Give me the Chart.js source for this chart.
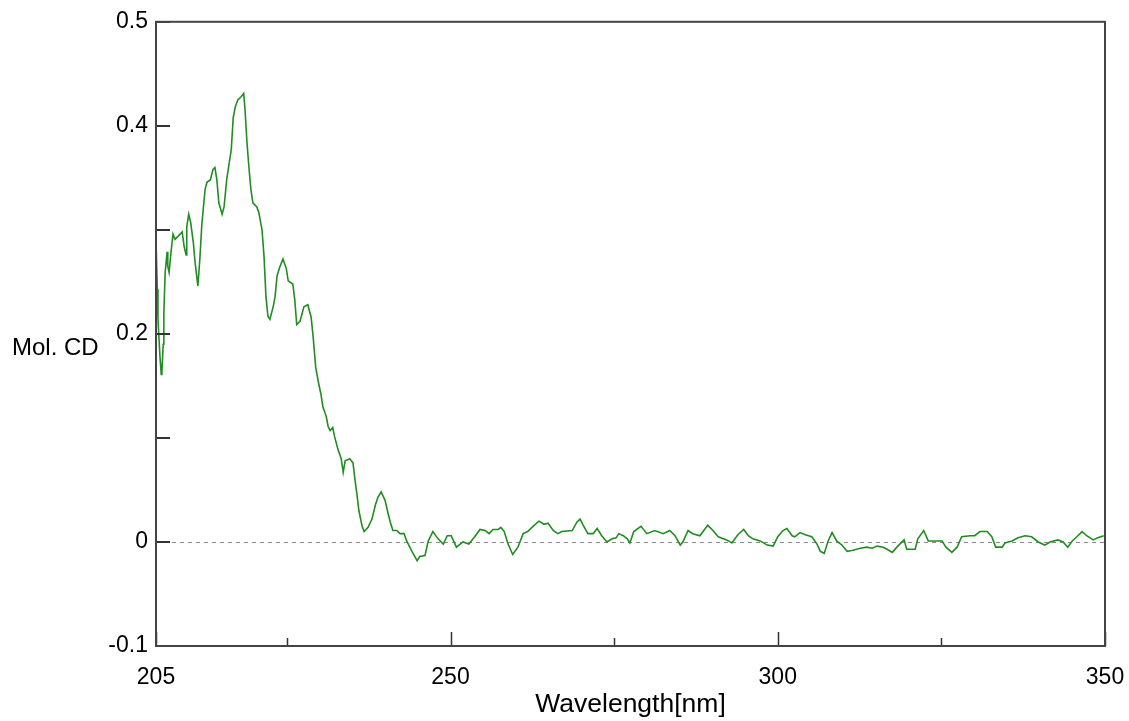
<!DOCTYPE html>
<html>
<head>
<meta charset="utf-8">
<title>Mol. CD spectrum</title>
<script src="https://cdn.jsdelivr.net/npm/chart.js@4.4.1/dist/chart.umd.min.js"></script>
<style>
  html, body { margin: 0; padding: 0; background: #fff; }
  #wrap { width: 1129px; height: 721px; }
</style>
</head>
<body>
<div id="wrap"><canvas id="cdChart" width="1129" height="721"></canvas></div>
<script>
// =====================
// Data
// =====================
const wavelength = [
  205.0, 205.2, 205.3, 205.6, 205.8, 205.9, 206.1, 206.2, 206.4, 206.7,
  206.8, 207.0, 207.3, 207.6, 207.9, 208.4, 209.0, 209.3, 209.6, 209.7,
  210.0, 210.3, 210.7, 211.0, 211.4, 211.7, 212.0, 212.5, 212.8, 213.3,
  213.7, 214.0, 214.3, 214.6, 215.1, 215.4, 215.8, 216.2, 216.5, 216.8,
  217.1, 217.5, 218.0, 218.4, 218.6, 218.9, 219.2, 219.5, 219.8, 220.4,
  220.7, 221.2, 221.5, 221.8, 222.1, 222.4, 222.9, 223.2, 223.5, 223.9,
  224.4, 224.9, 225.2, 225.9, 226.2, 226.5, 227.0, 227.6, 228.2, 228.7,
  229.0, 229.4, 229.8, 230.2, 230.5, 231.0, 231.3, 231.6, 232.0, 232.3,
  232.8, 233.3, 233.6, 233.9, 234.6, 235.1, 235.4, 235.7, 236.0, 236.5,
  236.8, 237.4, 238.0, 238.5, 238.9, 239.4, 240.0, 240.4, 240.8, 241.2,
  241.8, 242.3, 242.9, 243.3, 244.1, 244.9, 245.3, 246.1, 246.6, 247.3,
  248.1, 248.9, 249.5, 250.1, 250.9, 251.9, 252.8, 253.7, 254.5, 255.3,
  255.9, 256.5, 257.3, 257.7, 258.2, 258.8, 259.5, 260.3, 261.1, 261.8,
  262.6, 263.5, 264.3, 264.9, 265.7, 266.4, 267.0, 268.6, 269.3, 269.8,
  270.2, 271.0, 271.8, 272.4, 273.1, 273.9, 274.7, 275.3, 275.7, 276.4,
  277.0, 277.4, 278.0, 279.1, 280.0, 281.2, 282.5, 283.5, 284.3, 285.1,
  285.5, 286.3, 287.0, 288.1, 289.3, 290.1, 290.9, 292.2, 293.0, 293.9,
  294.8, 295.5, 296.2, 297.3, 298.4, 299.3, 300.0, 300.8, 301.4, 302.2,
  302.6, 303.4, 304.2, 305.2, 306.0, 306.5, 307.1, 307.7, 308.3, 309.0,
  309.8, 310.6, 311.5, 312.6, 313.6, 314.4, 315.2, 316.1, 316.7, 317.5,
  318.2, 319.3, 319.7, 321.0, 321.4, 322.3, 323.0, 325.1, 325.7, 326.6,
  327.4, 328.1, 329.4, 330.1, 330.9, 332.0, 332.7, 333.3, 334.3, 334.7,
  335.8, 336.7, 337.8, 338.8, 339.8, 340.8, 341.6, 342.8, 343.6, 344.3,
  345.0, 345.7, 346.5, 347.2, 348.2, 348.9, 349.8
];
const molCD = [
  0.291, 0.243, 0.214, 0.179, 0.161, 0.163, 0.190, 0.221, 0.259, 0.279,
  0.265, 0.259, 0.279, 0.296, 0.291, 0.294, 0.298, 0.284, 0.276, 0.303,
  0.315, 0.307, 0.288, 0.267, 0.246, 0.272, 0.305, 0.339, 0.346, 0.348,
  0.358, 0.360, 0.348, 0.326, 0.315, 0.322, 0.348, 0.365, 0.377, 0.408,
  0.418, 0.425, 0.428, 0.431, 0.416, 0.384, 0.360, 0.339, 0.326, 0.322,
  0.317, 0.300, 0.275, 0.236, 0.217, 0.214, 0.226, 0.236, 0.256, 0.264,
  0.272, 0.263, 0.251, 0.248, 0.233, 0.209, 0.212, 0.226, 0.228, 0.216,
  0.198, 0.168, 0.154, 0.142, 0.130, 0.121, 0.111, 0.107, 0.110, 0.101,
  0.089, 0.080, 0.067, 0.078, 0.080, 0.076, 0.060, 0.046, 0.030, 0.015,
  0.010, 0.014, 0.022, 0.035, 0.043, 0.048, 0.040, 0.029, 0.019, 0.011,
  0.011, 0.008, 0.008, 0.001, -0.009, -0.018, -0.014, -0.013, 0.001, 0.010,
  0.003, -0.002, 0.006, 0.006, -0.005, 0.000, -0.002, 0.005, 0.012, 0.011,
  0.008, 0.012, 0.012, 0.014, 0.010, -0.002, -0.012, -0.005, 0.008, 0.010,
  0.015, 0.020, 0.017, 0.018, 0.011, 0.008, 0.010, 0.011, 0.019, 0.022,
  0.017, 0.008, 0.008, 0.013, 0.006, 0.000, 0.003, 0.004, 0.008, 0.006,
  0.003, -0.001, 0.010, 0.015, 0.008, 0.011, 0.008, 0.011, 0.006, -0.003,
  0.000, 0.011, 0.008, 0.006, 0.016, 0.011, 0.005, 0.002, -0.001, 0.007,
  0.012, 0.006, 0.003, 0.001, -0.003, -0.004, 0.005, 0.011, 0.013, 0.006,
  0.005, 0.009, 0.007, 0.005, -0.002, -0.009, -0.011, 0.001, 0.009, 0.001,
  -0.003, -0.009, -0.008, -0.006, -0.005, -0.006, -0.004, -0.005, -0.007, -0.010,
  -0.005, 0.002, -0.007, -0.007, 0.003, 0.011, 0.001, 0.001, -0.005, -0.010,
  -0.005, 0.005, 0.006, 0.006, 0.010, 0.010, 0.005, -0.005, -0.005, -0.001,
  0.001, 0.004, 0.006, 0.005, 0.000, -0.003, 0.000, 0.002, 0.000, -0.005,
  0.001, 0.005, 0.010, 0.006, 0.002, 0.004, 0.006
];

const xTickValues = [205, 225, 250, 275, 300, 325, 350];
const xTickLabels = [205, 250, 300, 350];
const yTickLabels = [0.5, 0.4, 0.2, 0, -0.1];

// =====================
// Helpers
// =====================
const TICK_FONT = 'Liberation Sans, Arial, sans-serif';
const isLabelled = (list, v) => list.some(t => Math.abs(t - v) < 1e-6);

// inward tick marks, zero line, frame and the horizontal y title
const framePlugin = {
  id: 'frame',
  beforeDatasetsDraw(chart) {
    const { ctx, chartArea: a, scales: { y } } = chart;
    ctx.save();
    // dashed zero line
    const y0 = Math.round(y.getPixelForValue(0)) + 0.5;
    ctx.strokeStyle = '#8a8a8a';
    ctx.lineWidth = 1;
    ctx.setLineDash([4, 4]);
    ctx.beginPath();
    ctx.moveTo(a.left, y0);
    ctx.lineTo(a.right, y0);
    ctx.stroke();
    ctx.restore();
  },
  afterDatasetsDraw(chart) {
    const { ctx, chartArea: a, scales: { x, y } } = chart;
    ctx.save();
    ctx.strokeStyle = '#333';
    ctx.lineWidth = 2;
    ctx.setLineDash([]);
    // y ticks pointing right
    y.ticks.forEach(t => {
      const py = Math.round(y.getPixelForValue(t.value));
      ctx.beginPath();
      ctx.moveTo(a.left, py);
      ctx.lineTo(a.left + 14, py);
      ctx.stroke();
    });
    // x ticks pointing up
    ctx.lineWidth = 1.5;
    x.ticks.forEach(t => {
      const px = Math.round(x.getPixelForValue(t.value)) + 0.5;
      const len = isLabelled(xTickLabels, t.value) ? 14 : 8;
      ctx.beginPath();
      ctx.moveTo(px, a.bottom);
      ctx.lineTo(px, a.bottom - len);
      ctx.stroke();
    });
    // frame
    ctx.strokeStyle = '#444';
    ctx.lineWidth = 2;
    ctx.strokeRect(a.left, a.top, a.right - a.left, a.bottom - a.top);
    // y title drawn horizontally
    ctx.fillStyle = '#000';
    ctx.font = '24px ' + TICK_FONT;
    ctx.textAlign = 'left';
    ctx.textBaseline = 'middle';
    ctx.fillText('Mol. CD', 12, 348);
    ctx.restore();
  }
};

// =====================
// Chart
// =====================
new Chart(document.getElementById('cdChart'), {
  type: 'line',
  data: {
    datasets: [{
      label: 'Mol. CD',
      data: wavelength.map((w, i) => ({ x: w, y: molCD[i] })),
      borderColor: '#218c21',
      borderWidth: 1.6,
      pointRadius: 0,
      tension: 0,
      fill: false
    }]
  },
  options: {
    responsive: false,
    animation: false,
    layout: { padding: { left: 0, top: 21, right: 24, bottom: 0 } },
    plugins: { legend: { display: false }, tooltip: { enabled: false } },
    scales: {
      x: {
        type: 'linear',
        min: 205,
        max: 350,
        afterBuildTicks: scale => { scale.ticks = xTickValues.map(v => ({ value: v })); },
        afterFit: scale => { scale.height = 75; },
        // invisible outside ticks only push the labels down
        grid: { display: true, drawOnChartArea: false, drawTicks: true, tickLength: 14, color: 'rgba(0,0,0,0)' },
        border: { display: false },
        ticks: {
          autoSkip: false,
          maxRotation: 0,
          padding: 4,
          color: '#000',
          font: { family: TICK_FONT, size: 23 },
          callback: v => isLabelled(xTickLabels, v) ? String(v) : ''
        },
        title: {
          display: true,
          text: 'Wavelength[nm]',
          color: '#000',
          font: { family: TICK_FONT, size: 26.5 },
          padding: { top: 0, bottom: 0 }
        }
      },
      y: {
        min: -0.1,
        max: 0.5,
        afterFit: scale => { scale.width = 156; },
        grid: { display: false, drawTicks: false },
        border: { display: false },
        ticks: {
          stepSize: 0.1,
          padding: 8,
          color: '#000',
          font: { family: TICK_FONT, size: 23 },
          callback: v => {
            const r = Math.round(v * 10) / 10;
            return isLabelled(yTickLabels, r) ? String(r) : '';
          }
        }
      }
    }
  },
  plugins: [framePlugin]
});
</script>
</body>
</html>
